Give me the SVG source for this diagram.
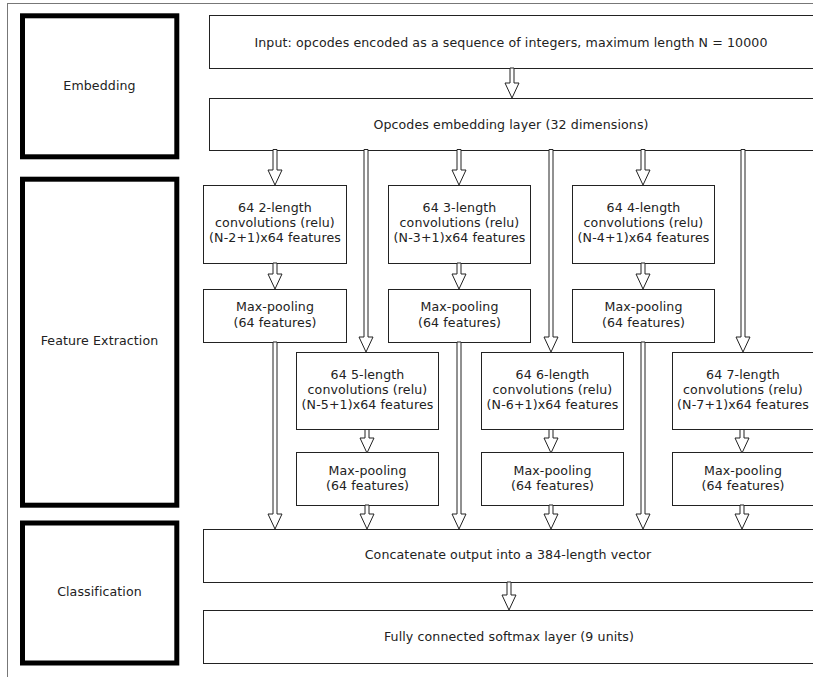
<svg xmlns="http://www.w3.org/2000/svg" width="813" height="677" viewBox="0 0 813 677">
  <style>
    text { font-family: "DejaVu Sans", "Liberation Sans", sans-serif; font-size: 12.6px; letter-spacing: 0.1px; fill: #222; text-anchor: middle; }
    .box { fill: #fff; stroke: #222; stroke-width: 1; }
    .stage { fill: #fff; stroke: #000; stroke-width: 5; }
    .frame { fill: none; stroke: #777; stroke-width: 1; }
    .arrow { fill: #fff; stroke: #222; stroke-width: 1; stroke-linejoin: miter; }
  </style>

  <rect class="frame" x="7.5" y="3.5" width="900" height="700"/>

  <!-- stage labels -->
  <g id="stage-embedding">
    <rect class="stage" x="22.5" y="15.8" width="154.3" height="141"/>
    <text x="99.5" y="90">Embedding</text>
  </g>
  <g id="stage-feature-extraction">
    <rect class="stage" x="22.5" y="179.2" width="154.3" height="326"/>
    <text x="99.5" y="345">Feature Extraction</text>
  </g>
  <g id="stage-classification">
    <rect class="stage" x="22.5" y="523" width="154.3" height="140"/>
    <text x="99.5" y="596">Classification</text>
  </g>

  <!-- layers -->
  <g id="input">
    <rect class="box" x="209.5" y="15.5" width="620" height="53"/>
    <text x="511" y="47">Input: opcodes encoded as a sequence of integers, maximum length N = 10000</text>
  </g>
  <g id="embedding">
    <rect class="box" x="209.5" y="98.5" width="620" height="52"/>
    <text x="511" y="129">Opcodes embedding layer (32 dimensions)</text>
  </g>

  <g id="conv2">
    <rect class="box" x="203.5" y="185.5" width="143" height="78"/>
    <text x="275" y="212">64 2-length</text>
    <text x="275" y="227">convolutions (relu)</text>
    <text x="275" y="242">(N-2+1)x64 features</text>
  </g>
  <g id="pool2">
    <rect class="box" x="203.5" y="289.5" width="143" height="53"/>
    <text x="275" y="311">Max-pooling</text>
    <text x="275" y="327">(64 features)</text>
  </g>

  <g id="conv3">
    <rect class="box" x="388.5" y="185.5" width="142" height="78"/>
    <text x="459.5" y="212">64 3-length</text>
    <text x="459.5" y="227">convolutions (relu)</text>
    <text x="459.5" y="242">(N-3+1)x64 features</text>
  </g>
  <g id="pool3">
    <rect class="box" x="388.5" y="289.5" width="142" height="53"/>
    <text x="459.5" y="311">Max-pooling</text>
    <text x="459.5" y="327">(64 features)</text>
  </g>

  <g id="conv4">
    <rect class="box" x="572.5" y="185.5" width="142" height="78"/>
    <text x="643.5" y="212">64 4-length</text>
    <text x="643.5" y="227">convolutions (relu)</text>
    <text x="643.5" y="242">(N-4+1)x64 features</text>
  </g>
  <g id="pool4">
    <rect class="box" x="572.5" y="289.5" width="142" height="53"/>
    <text x="643.5" y="311">Max-pooling</text>
    <text x="643.5" y="327">(64 features)</text>
  </g>

  <g id="conv5">
    <rect class="box" x="296.5" y="352.5" width="142" height="77"/>
    <text x="367.5" y="379">64 5-length</text>
    <text x="367.5" y="394">convolutions (relu)</text>
    <text x="367.5" y="409">(N-5+1)x64 features</text>
  </g>
  <g id="pool5">
    <rect class="box" x="296.5" y="452.5" width="142" height="53"/>
    <text x="367.5" y="475">Max-pooling</text>
    <text x="367.5" y="490">(64 features)</text>
  </g>

  <g id="conv6">
    <rect class="box" x="481.5" y="352.5" width="142" height="77"/>
    <text x="552.5" y="379">64 6-length</text>
    <text x="552.5" y="394">convolutions (relu)</text>
    <text x="552.5" y="409">(N-6+1)x64 features</text>
  </g>
  <g id="pool6">
    <rect class="box" x="481.5" y="452.5" width="142" height="53"/>
    <text x="552.5" y="475">Max-pooling</text>
    <text x="552.5" y="490">(64 features)</text>
  </g>

  <g id="conv7">
    <rect class="box" x="672.5" y="352.5" width="143" height="77"/>
    <text x="743" y="379">64 7-length</text>
    <text x="743" y="394">convolutions (relu)</text>
    <text x="743" y="409">(N-7+1)x64 features</text>
  </g>
  <g id="pool7">
    <rect class="box" x="672.5" y="452.5" width="143" height="53"/>
    <text x="743" y="475">Max-pooling</text>
    <text x="743" y="490">(64 features)</text>
  </g>

  <g id="concat">
    <rect class="box" x="203.5" y="529.5" width="630" height="53"/>
    <text x="508" y="559">Concatenate output into a 384-length vector</text>
  </g>
  <g id="softmax">
    <rect class="box" x="203.5" y="610.5" width="630" height="53"/>
    <text x="509" y="641">Fully connected softmax layer (9 units)</text>
  </g>

  <!-- block arrows: shaft 4px wide, hollow head 14px wide, 15px tall -->
  <g id="connectors">
    <polygon class="arrow" points="510,68 514,68 514,83 519,83 512,98 505,83 510,83"/>

    <polygon class="arrow" points="273,149.5 277,149.5 277,170 282,170 275,185 268,170 273,170"/>
    <polygon class="arrow" points="457,149.5 461,149.5 461,170 466,170 459,185 452,170 457,170"/>
    <polygon class="arrow" points="641,149.5 645,149.5 645,170 650,170 643,185 636,170 641,170"/>
    <polygon class="arrow" points="364,149.5 368,149.5 368,337 373,337 366,352 359,337 364,337"/>
    <polygon class="arrow" points="549,149.5 553,149.5 553,337 558,337 551,352 544,337 549,337"/>
    <polygon class="arrow" points="741,149.5 745,149.5 745,337 750,337 743,352 736,337 741,337"/>

    <polygon class="arrow" points="273,263 277,263 277,274 282,274 275,289 268,274 273,274"/>
    <polygon class="arrow" points="457,263 461,263 461,274 466,274 459,289 452,274 457,274"/>
    <polygon class="arrow" points="641,263 645,263 645,274 650,274 643,289 636,274 641,274"/>

    <polygon class="arrow" points="365,429.5 369,429.5 369,438 374,438 367,453 360,438 365,438"/>
    <polygon class="arrow" points="549,429.5 553,429.5 553,438 558,438 551,453 544,438 549,438"/>
    <polygon class="arrow" points="740,429.5 744,429.5 744,438 749,438 742,453 735,438 740,438"/>

    <polygon class="arrow" points="273,342 277,342 277,514 282,514 275,529 268,514 273,514"/>
    <polygon class="arrow" points="457,342 461,342 461,514 466,514 459,529 452,514 457,514"/>
    <polygon class="arrow" points="641,342 645,342 645,514 650,514 643,529 636,514 641,514"/>
    <polygon class="arrow" points="365,505 369,505 369,514 374,514 367,529 360,514 365,514"/>
    <polygon class="arrow" points="549,505 553,505 553,514 558,514 551,529 544,514 549,514"/>
    <polygon class="arrow" points="740,505 744,505 744,514 749,514 742,529 735,514 740,514"/>

    <polygon class="arrow" points="507,582 511,582 511,595 516,595 509,610 502,595 507,595"/>
  </g>
</svg>
